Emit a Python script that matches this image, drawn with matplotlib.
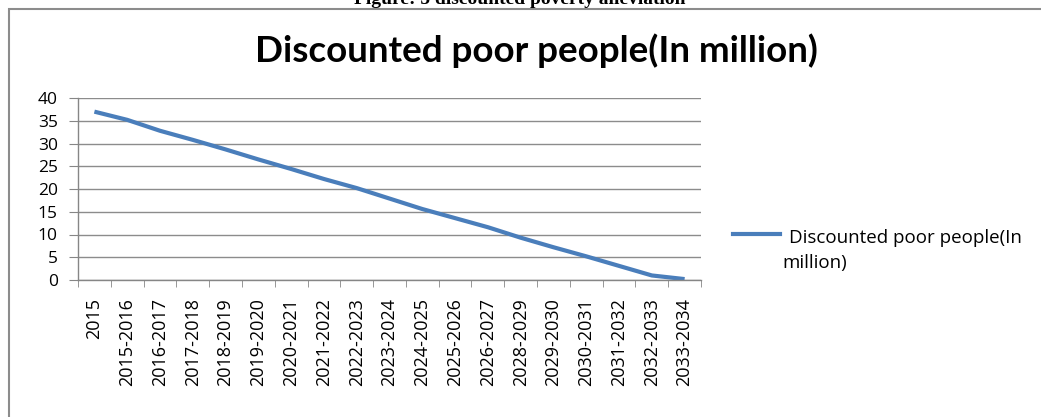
import matplotlib
matplotlib.use("Agg")
import matplotlib.pyplot as plt
from matplotlib.patches import Rectangle
from matplotlib.lines import Line2D

periods = ["2015", "2015-2016", "2016-2017", "2017-2018", "2018-2019",
           "2019-2020", "2020-2021", "2021-2022", "2022-2023", "2023-2024",
           "2024-2025", "2025-2026", "2026-2027", "2028-2029", "2029-2030",
           "2030-2031", "2031-2032", "2032-2033", "2033-2034"]
poor_people = [37.0, 35.2, 32.8, 30.8, 28.7, 26.5, 24.4, 22.2, 20.2, 17.9,
               15.6, 13.6, 11.6, 9.3, 7.2, 5.2, 3.1, 1.0, 0.2]
series_name = "Discounted poor people(In million)"

W, H = 1041, 417
fig = plt.figure(figsize=(W / 100, H / 100), dpi=100)
fig.patch.set_facecolor("white")

# caption of the figure, mostly cut off at the top
fig.text(520 / W, 1 - 4 / H, "Figure: 5 discounted poverty alleviation",
         ha="center", va="baseline", fontsize=14, fontweight="bold",
         family="Liberation Serif")

# chart frame
fig.patches.append(Rectangle((9 / W, -0.05), 1.1, 1.05 - 9 / H,
                             transform=fig.transFigure, fill=False,
                             edgecolor="#8c8c8c", linewidth=1.5))

fig.text(536 / W, 1 - 62 / H, series_name, ha="center", va="baseline",
         fontsize=26.5, fontweight="bold", family="Lato")

ax = fig.add_axes([78 / W, 137 / H, 623 / W, 182 / H])
x = list(range(len(periods)))
ax.plot(x, poor_people, color="#4a7ebb", linewidth=3, solid_capstyle="butt")

ax.set_xlim(-0.5, len(periods) - 0.5)
ax.set_ylim(0, 40)
ax.set_yticks(range(0, 41, 5))
ax.set_xticks(x)
ax.set_xticklabels(periods, rotation=90, family="Open Sans", fontsize=13)
ax.set_xticks([i - 0.5 for i in range(len(periods) + 1)], minor=True)
ax.tick_params(axis="x", which="major", length=0, pad=13)
ax.tick_params(axis="x", which="minor", length=5, color="#868686",
               direction="out")
ax.tick_params(axis="y", length=6.5, color="#868686", labelsize=12.5, pad=8)
for lab in ax.get_yticklabels():
    lab.set_family("Open Sans")

ax.grid(axis="y", color="#8c8c8c", linewidth=1)
ax.set_axisbelow(True)
for side in ("top", "right"):
    ax.spines[side].set_visible(False)
for side in ("left", "bottom"):
    ax.spines[side].set_color("#868686")
    ax.spines[side].set_linewidth(1)

# legend drawn at the right of the plot
fig.lines.append(Line2D([733 / W, 780 / W], [1 - 234 / H, 1 - 234 / H],
                        transform=fig.transFigure, color="#4a7ebb",
                        linewidth=3))
fig.text(789 / W, 1 - 243 / H, "Discounted poor people(In", ha="left",
         va="baseline", fontsize=13.5, family="Open Sans")
fig.text(782 / W, 1 - 268 / H, "million)", ha="left", va="baseline",
         fontsize=13.5, family="Open Sans")

fig.savefig("out.png", dpi=100)
